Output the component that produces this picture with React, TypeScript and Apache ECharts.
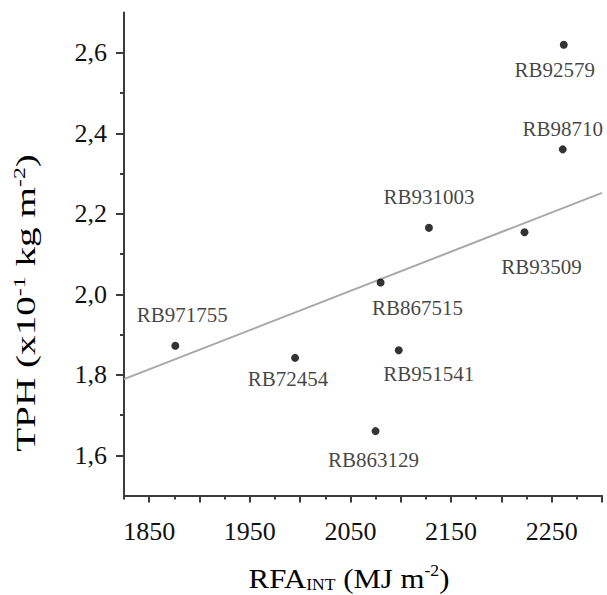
import React, { useEffect, useRef } from "react";
import * as echarts from "echarts";

const names = ["RB971755", "RB72454", "RB863129", "RB867515", "RB951541", "RB931003", "RB93509", "RB98710", "RB92579"];
const rfa = [1876, 1995, 2075, 2080, 2098, 2128, 2223, 2261, 2262];
const tph = [1.872, 1.842, 1.66, 2.029, 1.861, 2.165, 2.154, 2.36, 2.62];

const trendX = [1825, 2300];
const trendY = [1.789, 2.252];

const xTickLabels = [1850, 1950, 2050, 2150, 2250];
const xMajorTicks = [1850, 1900, 1950, 2000, 2050, 2100, 2150, 2200, 2250, 2300];
const xMinorTicks = [1825, 1875, 1925, 1975, 2025, 2075, 2125, 2175, 2225, 2275];
const yTickLabels = [1.6, 1.8, 2.0, 2.2, 2.4, 2.6];
const yMinorTicks = [1.7, 1.9, 2.1, 2.3, 2.5];

// label placement (layout, not data)
const labelOffsets: [number, number][] = [
  [7, -31], [-7, 21], [-2, 29], [37, 25], [30, 24], [0, -31], [17, 35], [0, -20], [-9, 25],
];

const FONT = "Liberation Serif";
const AXIS = "#3c3c3c";

export default function App() {
  const ref = useRef<HTMLDivElement>(null);
  useEffect(() => {
    document.body.style.margin = "0";
    const chart = echarts.init(ref.current!, null, { renderer: "svg" });
    const xRich = {
      m: { fontFamily: FONT, fontSize: 28, lineHeight: 30, color: "#111" },
      s: { fontFamily: FONT, fontSize: 16, lineHeight: 16, color: "#111", verticalAlign: "bottom" },
      p: { fontFamily: FONT, fontSize: 16, lineHeight: 16, color: "#111", verticalAlign: "top" },
    };
    const yRich = {
      m: { fontFamily: FONT, fontSize: 28, lineHeight: 31, color: "#111" },
      p: { fontFamily: FONT, fontSize: 17, lineHeight: 17, color: "#111", verticalAlign: "top" },
    };
    chart.setOption({
      animation: false,
      grid: { left: 124, right: 5, top: 12.5, bottom: 99.5, containLabel: false },
      xAxis: [
        {
          type: "value", min: 1825, max: 2300, interval: 25, position: "bottom",
          axisLine: { show: true, onZero: false, lineStyle: { color: AXIS, width: 2 } },
          axisTick: { show: true, customValues: xMajorTicks, length: 7, lineStyle: { color: AXIS, width: 2 } },
          axisLabel: {
            customValues: xTickLabels, margin: 23, fontFamily: FONT, fontSize: 26, color: "#111",
            formatter: (v: number) => String(v),
          },
          splitLine: { show: false },
        },
        {
          type: "value", min: 1825, max: 2300, interval: 25, position: "bottom", gridIndex: 0,
          axisLine: { show: false, onZero: false },
          axisTick: { show: true, customValues: xMinorTicks, length: 4, lineStyle: { color: AXIS, width: 2 } },
          axisLabel: { show: false },
          splitLine: { show: false },
        },
      ],
      yAxis: [
        {
          type: "value", min: 1.5, max: 2.7, interval: 0.1, position: "left",
          axisLine: { show: true, onZero: false, lineStyle: { color: AXIS, width: 2 } },
          axisTick: { show: true, customValues: yTickLabels, length: 8, lineStyle: { color: AXIS, width: 2 } },
          axisLabel: {
            customValues: yTickLabels, margin: 17, fontFamily: FONT, fontSize: 26, color: "#111",
            formatter: (v: number) => v.toFixed(1).replace(".", ","),
          },
          splitLine: { show: false },
        },
        {
          type: "value", min: 1.5, max: 2.7, interval: 0.1, position: "left", gridIndex: 0,
          axisLine: { show: false, onZero: false },
          axisTick: { show: true, customValues: yMinorTicks, length: 4, lineStyle: { color: AXIS, width: 2 } },
          axisLabel: { show: false },
          splitLine: { show: false },
        },
      ],
      series: [
        {
          type: "line",
          data: trendX.map((x, i) => [x, trendY[i]]),
          symbol: "none",
          lineStyle: { color: "#a8a8a8", width: 2 },
          silent: true,
          z: 1,
        },
        {
          type: "scatter",
          symbolSize: 8,
          itemStyle: { color: "#000" },
          z: 3,
          data: rfa.map((x, i) => ({
            value: [x, tph[i]],
            label: { offset: labelOffsets[i] },
          })),
          label: {
            show: true,
            position: "inside",
            formatter: (p: any) => names[p.dataIndex],
            fontFamily: FONT,
            fontSize: 21,
            color: "#111",
          },
        },
      ],
      graphic: [
        {
          type: "text",
          x: 349,
          y: 578,
          scaleX: 1.1,
          style: {
            text: "{m|RFA}{s|INT}{m| (MJ m}{p|-2}{m|)}",
            rich: xRich,
            align: "center",
            verticalAlign: "middle",
            textAlign: "center",
            textVerticalAlign: "middle",
          },
        },
        {
          type: "text",
          x: 26,
          y: 303,
          rotation: Math.PI / 2,
          scaleX: 1.4,
          style: {
            text: "{m|TPH (x10}{p|-1}{m| kg m}{p|-2}{m|)}",
            rich: yRich,
            align: "center",
            verticalAlign: "middle",
            textAlign: "center",
            textVerticalAlign: "middle",
          },
        },
      ],
    });
    return () => chart.dispose();
  }, []);
  return <div ref={ref} style={{ width: 607, height: 595 }} />;
}
